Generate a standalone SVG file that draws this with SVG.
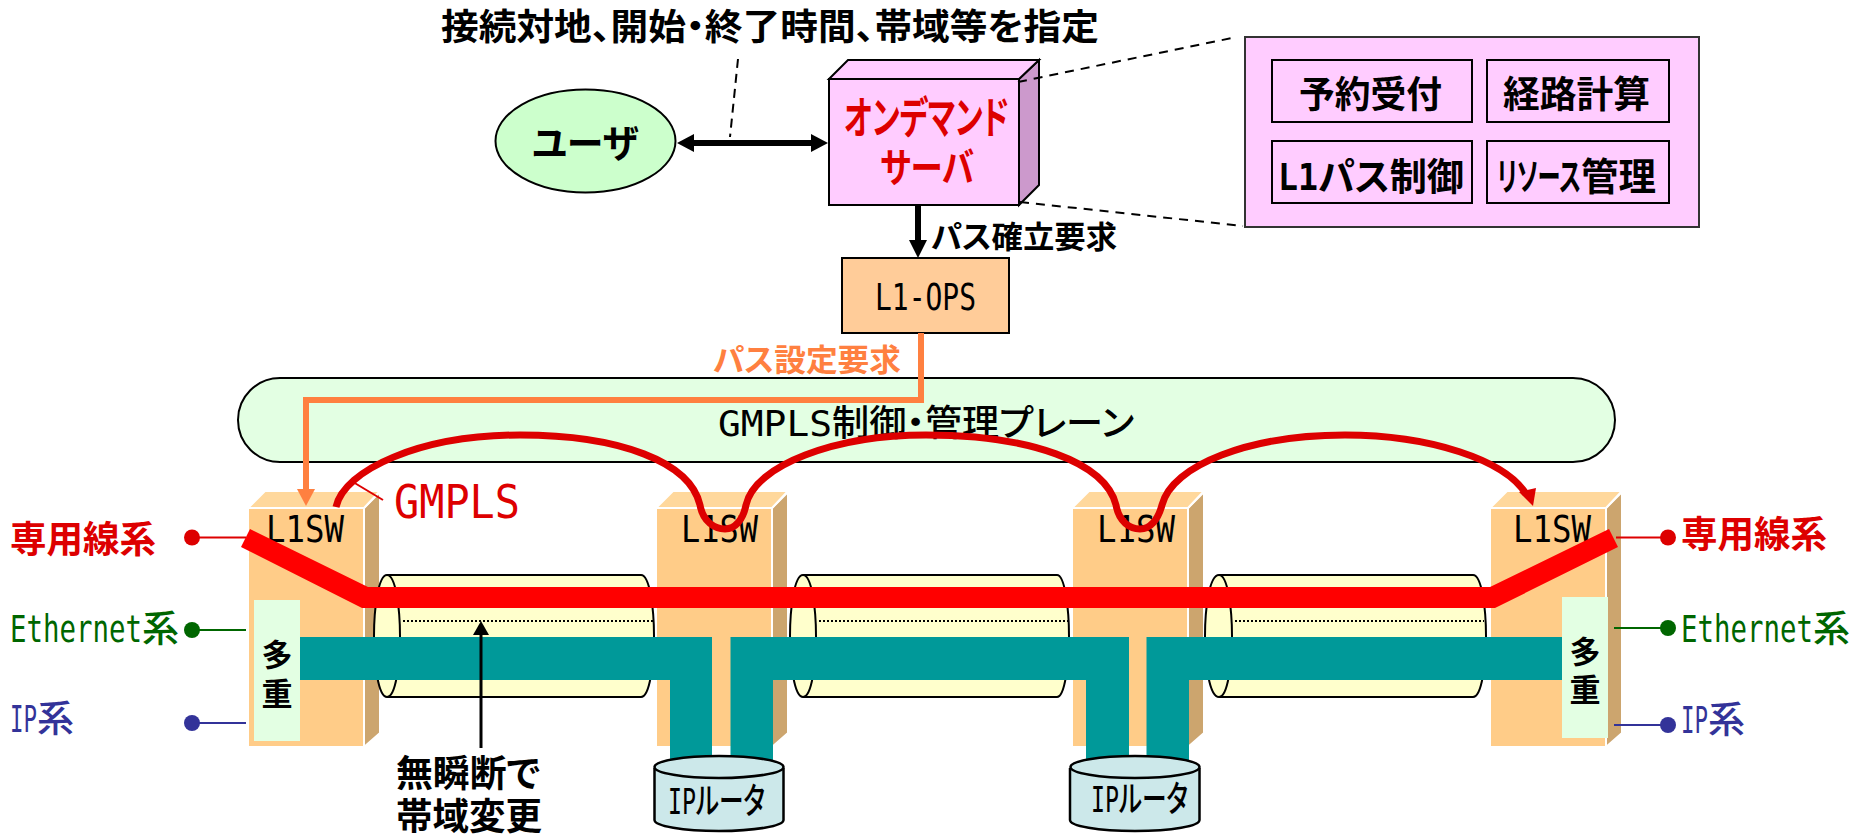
<svg xmlns="http://www.w3.org/2000/svg" width="1854" height="834" viewBox="0 0 1854 834">
<style>
text{font-family:"Noto Sans CJK JP","Noto Sans",sans-serif;fill:#000;font-feature-settings:"palt";}
.m{font-family:"DejaVu Sans Mono","Noto Sans CJK JP",monospace;}
.b{font-weight:700;}
.md{font-weight:500;}
.red{fill:#dd0000;}.grn{fill:#006600;}.blu{fill:#333399;}.org{fill:#ff8040;}
.front{fill:#ffcc88;stroke:#fff;stroke-width:2;}
.top{fill:#ffd89c;stroke:#fff;stroke-width:2;}
.side{fill:#cca56e;stroke:#fff;stroke-width:2;}
.cyl{fill:#ffffcc;stroke:#000;stroke-width:2;}
.dot{stroke:#000;stroke-width:2;stroke-dasharray:2 2;fill:none;}
.mux{fill:#e3ffe3;}
.rt{fill:#cce8ea;stroke:#000;stroke-width:2.5;}
.box{fill:#ffccff;stroke:#000;stroke-width:2;}
.dash{stroke:#000;stroke-width:2;stroke-dasharray:9 7;fill:none;}
.teal{fill:#009999;}
</style>
<defs>
<g id="sw">
<polygon class="side" points="116,0 132,-16 132,225 116,239"/>
<polygon class="top" points="0,0 17,-17 132,-17 116,0"/>
<rect class="front" x="0" y="0" width="116" height="239"/>
</g>
</defs>

<g id="plane"><rect x="238" y="378" width="1377" height="84" rx="42" ry="42" fill="#e3ffe3" stroke="#000" stroke-width="2"/>
<text x="718" y="436" font-size="36" class="md"><tspan class="m" textLength="114" lengthAdjust="spacingAndGlyphs">GMPLS</tspan><tspan textLength="302" lengthAdjust="spacingAndGlyphs">制御・管理プレーン</tspan></text></g>

<g id="sw1"><use href="#sw" x="248" y="508"/><text class="m" x="266" y="542" font-size="37" textLength="78" lengthAdjust="spacingAndGlyphs">L1SW</text></g>
<g id="sw2"><use href="#sw" x="656" y="508"/><text class="m" x="681" y="542" font-size="37" textLength="77" lengthAdjust="spacingAndGlyphs">L1SW</text></g>
<g id="sw3"><use href="#sw" x="1072" y="508"/><text class="m" x="1097" y="542" font-size="37" textLength="78" lengthAdjust="spacingAndGlyphs">L1SW</text></g>
<g id="sw4"><use href="#sw" x="1490" y="508"/><text class="m" x="1513" y="542" font-size="37" textLength="78" lengthAdjust="spacingAndGlyphs">L1SW</text></g>

<g id="cyl1"><path class="cyl" d="M387,575H641C650,575 654,610 654,636C654,662 650,697 641,697H387C378,697 374,662 374,636C374,610 378,575 387,575Z"/><path class="cyl" style="fill:none" d="M387,575C396,575 400,610 400,636C400,662 396,697 387,697"/><line class="dot" x1="403" y1="621" x2="653" y2="621"/></g>
<g id="cyl2"><path class="cyl" d="M803,575H1057C1065,575 1069,610 1069,636C1069,662 1065,697 1057,697H803C794,697 790,662 790,636C790,610 794,575 803,575Z"/><path class="cyl" style="fill:none" d="M803,575C812,575 816,610 816,636C816,662 812,697 803,697"/><line class="dot" x1="819" y1="621" x2="1068" y2="621"/></g>
<g id="cyl3"><path class="cyl" d="M1219,575H1473C1482,575 1486,610 1486,636C1486,662 1482,697 1473,697H1219C1209,697 1205,662 1205,636C1205,610 1209,575 1219,575Z"/><path class="cyl" style="fill:none" d="M1219,575C1228,575 1232,610 1232,636C1232,662 1228,697 1219,697"/><line class="dot" x1="1235" y1="621" x2="1484" y2="621"/></g>

<g id="bars">
<polygon fill="#ff0000" points="250,529 241,547 362,608 1495,608 1618,547 1609,529 1490,587 368,587"/>
<polygon class="teal" points="300,637 712,637 712,766 670,766 670,680 300,680"/>
<polygon class="teal" points="730.5,637 1129,637 1129,766 1086,766 1086,680 773,680 773,766 730.5,766"/>
<polygon class="teal" points="1146.5,637 1563,637 1563,680 1189,680 1189,766 1146.5,766"/>
</g>

<g id="mux1"><rect class="mux" x="254" y="600" width="46" height="141"/><text x="277" y="666" font-size="31" class="b" text-anchor="middle">多</text><text x="277" y="705" font-size="31" class="b" text-anchor="middle">重</text></g>
<g id="mux2"><rect class="mux" x="1562" y="597" width="46" height="141"/><text x="1585" y="663" font-size="31" class="b" text-anchor="middle">多</text><text x="1585" y="701" font-size="31" class="b" text-anchor="middle">重</text></g>

<g id="router1"><path class="rt" d="M654.5,768V820C654.5,826 683,831 719,831S783.5,826 783.5,820V768"/><ellipse class="rt" cx="719" cy="767" rx="64.5" ry="11"/><text class="md" x="668" y="814" font-size="36"><tspan class="m" textLength="28" lengthAdjust="spacingAndGlyphs">IP</tspan><tspan textLength="69" lengthAdjust="spacingAndGlyphs">ルータ</tspan></text></g>
<g id="router2"><path class="rt" d="M1070,768V820C1070,826 1098,831 1135,831S1199.5,826 1199.5,820V768"/><ellipse class="rt" cx="1135" cy="767" rx="64.5" ry="11"/><text class="md" x="1091" y="812" font-size="36"><tspan class="m" textLength="28" lengthAdjust="spacingAndGlyphs">IP</tspan><tspan textLength="69" lengthAdjust="spacingAndGlyphs">ルータ</tspan></text></g>

<g id="user"><ellipse cx="585.5" cy="141" rx="90" ry="51.5" fill="#ccffcc" stroke="#000" stroke-width="2"/><text class="b" x="532" y="157" font-size="38" textLength="107" lengthAdjust="spacingAndGlyphs">ユーザ</text></g>

<g id="server">
<polygon points="1019,79 1039,60 1039,185 1019,205" fill="#cc99cc" stroke="#000" stroke-width="2"/>
<polygon points="829,79 848,60 1039,60 1019,79" fill="#ffccff" stroke="#000" stroke-width="2"/>
<rect class="box" x="829" y="79" width="190" height="126"/>
<text class="red b" x="844" y="134" font-size="44" textLength="165" lengthAdjust="spacingAndGlyphs">オンデマンド</text>
<text class="red b" x="880" y="182" font-size="40" textLength="94" lengthAdjust="spacingAndGlyphs">サーバ</text>
</g>

<g id="panel"><rect x="1245" y="37" width="454" height="190" fill="#ffccff" stroke="#333" stroke-width="2"/></g>
<g id="reserve"><rect class="box" x="1272" y="60" width="200" height="62"/><text class="b" x="1299" y="108" font-size="37" textLength="143" lengthAdjust="spacingAndGlyphs">予約受付</text></g>
<g id="route"><rect class="box" x="1487" y="60" width="182" height="62"/><text class="b" x="1503" y="108" font-size="37" textLength="147" lengthAdjust="spacingAndGlyphs">経路計算</text></g>
<g id="l1ctl"><rect class="box" x="1272" y="141" width="200" height="62"/><text class="b" x="1278" y="190" font-size="38"><tspan class="m" textLength="40" lengthAdjust="spacingAndGlyphs">L1</tspan><tspan textLength="146" lengthAdjust="spacingAndGlyphs">パス制御</tspan></text></g>
<g id="res"><rect class="box" x="1487" y="141" width="182" height="62"/><text class="b" x="1497" y="190" font-size="38"><tspan textLength="84" lengthAdjust="spacingAndGlyphs">リソース</tspan><tspan textLength="75" lengthAdjust="spacingAndGlyphs">管理</tspan></text></g>

<g id="ops"><rect x="842" y="258" width="167" height="75" fill="#ffcc99" stroke="#000" stroke-width="2"/><text class="m" x="875" y="310" font-size="37" textLength="101" lengthAdjust="spacingAndGlyphs">L1-OPS</text></g>

<g id="connectors">
<line x1="738" y1="59" x2="730" y2="137" stroke="#000" stroke-width="2" stroke-dasharray="9 6"/>
<line x1="683" y1="143" x2="822" y2="143" stroke="#000" stroke-width="6"/>
<polygon points="677,143 694,134 694,152"/><polygon points="828,143 811,134 811,152"/>
<line class="dash" x1="1018" y1="82" x2="1232" y2="38"/>
<line class="dash" x1="1020" y1="202" x2="1243" y2="226"/>
<line x1="918" y1="205" x2="918" y2="242" stroke="#000" stroke-width="6"/><polygon points="909,240 927,240 918,258"/>
<path d="M921,333V400H306V490" fill="none" stroke="#ff8040" stroke-width="6"/><polygon points="297,489 315,489 306,506" fill="#ff8040"/>
<path d="M336,507C344,470 420,435 520,435C620,435 690,462 700,505C703,522 715,529 725,529C735,529 743,520 746,505C755,465 835,435 926,435C1030,435 1105,462 1116,505C1119,522 1130,529 1140,529C1150,529 1158,520 1162,505C1172,465 1250,435 1345,435C1430,435 1505,460 1526,494" fill="none" stroke="#dd0000" stroke-width="7"/>
<polygon points="1519,492 1536,488 1533,506" fill="#dd0000"/>
<line x1="353" y1="482" x2="383" y2="500" stroke="#dd0000" stroke-width="2"/>
<line x1="481" y1="748" x2="481" y2="630" stroke="#000" stroke-width="3"/><polygon points="473,635 489,635 481,621"/>
<line x1="192" y1="537.5" x2="246" y2="537.5" stroke="#dd0000" stroke-width="2"/><ellipse cx="192" cy="537.5" rx="8" ry="8" fill="#dd0000"/>
<line x1="192" y1="630" x2="246" y2="630" stroke="#006600" stroke-width="2"/><ellipse cx="192" cy="630" rx="8" ry="8" fill="#006600"/>
<line x1="192" y1="723" x2="246" y2="723" stroke="#333399" stroke-width="2"/><ellipse cx="192" cy="723" rx="8" ry="8" fill="#333399"/>
<line x1="1616" y1="537.5" x2="1668" y2="537.5" stroke="#dd0000" stroke-width="2"/><ellipse cx="1668" cy="537.5" rx="8" ry="8" fill="#dd0000"/>
<line x1="1614" y1="628" x2="1668" y2="628" stroke="#006600" stroke-width="2"/><ellipse cx="1668" cy="628" rx="8" ry="8" fill="#006600"/>
<line x1="1614" y1="725" x2="1668" y2="725" stroke="#333399" stroke-width="2"/><ellipse cx="1668" cy="725" rx="8" ry="8" fill="#333399"/>
</g>

<g id="labels">
<text class="b" x="441" y="40" font-size="36" textLength="658" lengthAdjust="spacingAndGlyphs">接続対地、開始・終了時間、帯域等を指定</text>
<text class="b" x="931" y="248" font-size="31" textLength="186" lengthAdjust="spacingAndGlyphs">パス確立要求</text>
<text class="org b" x="713" y="371" font-size="31" textLength="188" lengthAdjust="spacingAndGlyphs">パス設定要求</text>
<text class="m red" x="394" y="518" font-size="46" textLength="126" lengthAdjust="spacingAndGlyphs">GMPLS</text>
<text class="b" x="396" y="787" font-size="37" textLength="144" lengthAdjust="spacingAndGlyphs">無瞬断で</text>
<text class="b" x="396" y="830" font-size="37" textLength="146" lengthAdjust="spacingAndGlyphs">帯域変更</text>
<text class="red b" x="10" y="553" font-size="37" textLength="146" lengthAdjust="spacingAndGlyphs">専用線系</text>
<text class="grn" x="10" y="642" font-size="37"><tspan class="m" textLength="132" lengthAdjust="spacingAndGlyphs">Ethernet</tspan><tspan class="md" textLength="37" lengthAdjust="spacingAndGlyphs">系</tspan></text>
<text class="blu" x="10" y="732" font-size="37"><tspan class="m" textLength="27" lengthAdjust="spacingAndGlyphs">IP</tspan><tspan class="md" textLength="37" lengthAdjust="spacingAndGlyphs">系</tspan></text>
<text class="red b" x="1681" y="548" font-size="37" textLength="146" lengthAdjust="spacingAndGlyphs">専用線系</text>
<text class="grn" x="1681" y="642" font-size="37"><tspan class="m" textLength="132" lengthAdjust="spacingAndGlyphs">Ethernet</tspan><tspan class="md" textLength="37" lengthAdjust="spacingAndGlyphs">系</tspan></text>
<text class="blu" x="1681" y="733" font-size="37"><tspan class="m" textLength="27" lengthAdjust="spacingAndGlyphs">IP</tspan><tspan class="md" textLength="37" lengthAdjust="spacingAndGlyphs">系</tspan></text>
</g>
</svg>
